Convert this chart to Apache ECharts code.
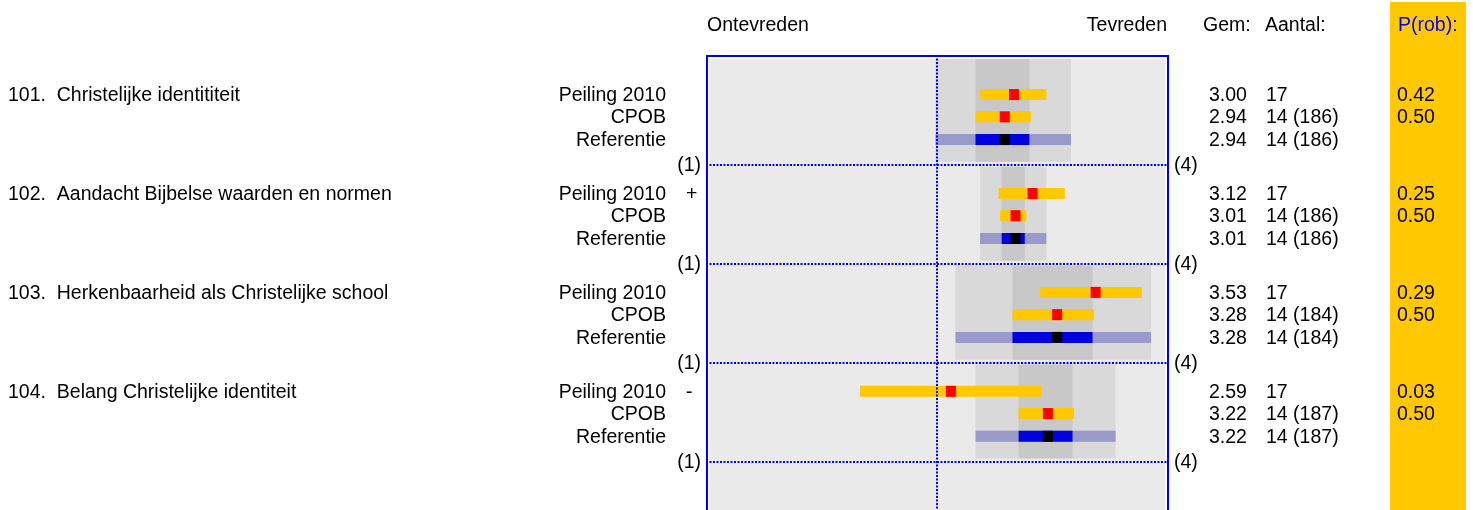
<!DOCTYPE html>
<html>
<head>
<meta charset="utf-8">
<script src="https://cdn.jsdelivr.net/npm/echarts@6/dist/echarts.min.js"></script>
<style>
html, body { margin: 0; padding: 0; background: #fff; }
#chart { width: 1473px; height: 510px; }
</style>
</head>
<body>
<div id="chart"></div>
<script>
// vragen en rijen
var vragen = ['101.  Christelijke identititeit', '102.  Aandacht Bijbelse waarden en normen',
              '103.  Herkenbaarheid als Christelijke school', '104.  Belang Christelijke identiteit'];
var rijen = ['Peiling 2010', 'CPOB', 'Referentie'];
var tekens = ['', '+', '', '-'];

// Peiling 2010
var peilingGem = [3.00, 3.12, 3.53, 2.59];
var peilingLaag = [2.78, 2.90, 3.17, 2.00];
var peilingHoog = [3.21, 3.33, 3.83, 3.18];
var peilingN = [17, 17, 17, 17];
var peilingP = ['0.42', '0.25', '0.29', '0.03'];

// CPOB
var cpobGem = [2.94, 3.01, 3.28, 3.22];
var cpobLaag = [2.75, 2.91, 2.99, 3.03];
var cpobHoog = [3.11, 3.08, 3.52, 3.39];
var cpobN = [14, 14, 14, 14];
var cpobTotaal = [186, 186, 184, 187];
var cpobP = ['0.50', '0.50', '0.50', '0.50'];

// Referentie
var refLaag = [2.49, 2.78, 2.62, 2.75];
var refHoog = [3.37, 3.21, 3.89, 3.66];
var refBinnenLaag = [2.75, 2.92, 2.99, 3.03];
var refBinnenHoog = [3.10, 3.07, 3.51, 3.38];

var FONT = '19.5px "Liberation Sans", Arial, sans-serif';
var rijOff = [0.29, 0.515, 0.745]; // plaats van de rij binnen een vraag

var chart = echarts.init(document.getElementById('chart'));

var data = vragen.map(function (v, i) {
    return [i, peilingLaag[i], peilingHoog[i], peilingGem[i],
            cpobLaag[i], cpobHoog[i], cpobGem[i],
            refLaag[i], refHoog[i], refBinnenLaag[i], refBinnenHoog[i]];
});

function tekst(x, y, t, align, kleur) {
    return {
        type: 'text', x: x, y: y,
        style: { text: t, font: FONT, fill: kleur || '#000',
                 align: align, textAlign: align, verticalAlign: 'middle', textVerticalAlign: 'middle' }
    };
}

// achtergrondvlakken per vraag
function vlakken(params, api) {
    var g = api.value(0);
    var boven = g === 0 ? -0.07 : g + 0.02;
    var onder = g + 0.97;
    function vlak(lo, hi, kleur) {
        var a = api.coord([lo, boven]), b = api.coord([hi, onder]);
        return { type: 'rect', shape: { x: a[0], y: a[1], width: b[0] - a[0], height: b[1] - a[1] }, style: { fill: kleur } };
    }
    return { type: 'group', children: [
        vlak(api.value(7), api.value(8), '#d9d9d9'),
        vlak(api.value(9), api.value(10), '#c8c8c8')
    ] };
}

// balken
function balken(params, api) {
    var g = api.value(0);
    var kids = [];
    function balk(lo, hi, r, kleur) {
        var y = g + rijOff[r];
        var a = api.coord([lo, y]), b = api.coord([hi, y]);
        kids.push({ type: 'rect', shape: { x: a[0], y: a[1] - 5.5, width: b[0] - a[0], height: 11 }, style: { fill: kleur } });
    }
    function stip(m, r, kleur) {
        var p = api.coord([m, g + rijOff[r]]);
        kids.push({ type: 'rect', shape: { x: p[0] - 5, y: p[1] - 5.5, width: 10, height: 11 }, style: { fill: kleur } });
    }
    balk(api.value(1), api.value(2), 0, '#ffc800');
    stip(api.value(3), 0, '#ff0000');
    balk(api.value(4), api.value(5), 1, '#ffc800');
    stip(api.value(6), 1, '#ff0000');
    balk(api.value(7), api.value(8), 2, '#9999cc');
    balk(api.value(9), api.value(10), 2, '#0000e0');
    stip(api.value(6), 2, '#000000');
    return { type: 'group', children: kids };
}

// teksten naast de grafiek
function teksten(params, api) {
    var g = api.value(0);
    var y = rijOff.map(function (o) { return api.coord([1, g + o])[1] + 1; });
    var lijn = api.coord([1, g + 1])[1] + 1;
    var kids = [
        tekst(8, y[0], vragen[g], 'left'),
        tekst(666, y[0], rijen[0], 'right'),
        tekst(666, y[1], rijen[1], 'right'),
        tekst(666, y[2], rijen[2], 'right'),
        tekst(686, y[0], tekens[g], 'left'),
        tekst(701, lijn, '(1)', 'right'),
        tekst(1174, lijn, '(4)', 'left'),
        tekst(1209, y[0], peilingGem[g].toFixed(2), 'left'),
        tekst(1209, y[1], cpobGem[g].toFixed(2), 'left'),
        tekst(1209, y[2], cpobGem[g].toFixed(2), 'left'),
        tekst(1266, y[0], String(peilingN[g]), 'left'),
        tekst(1266, y[1], cpobN[g] + ' (' + cpobTotaal[g] + ')', 'left'),
        tekst(1266, y[2], cpobN[g] + ' (' + cpobTotaal[g] + ')', 'left'),
        tekst(1397, y[0], peilingP[g], 'left'),
        tekst(1397, y[1], cpobP[g], 'left')
    ];
    return { type: 'group', children: kids };
}

var option = {
    animation: false,
    grid: { left: 706, right: 305, top: 55, bottom: -5, show: false },
    xAxis: { type: 'value', min: 1, max: 4, show: false },
    yAxis: { type: 'value', min: -0.11, max: 4.49, inverse: true, show: false },
    graphic: [
        { type: 'rect', z: -10, shape: { x: 1390, y: 2, width: 76, height: 510 }, style: { fill: '#ffc800' } },
        { type: 'rect', z: -10, shape: { x: 707, y: 56, width: 461, height: 470 }, style: { fill: '#fff', stroke: '#0000ff', lineWidth: 2 } },
        { type: 'rect', z: -10, shape: { x: 709, y: 59, width: 456, height: 455 }, style: { fill: '#eaeaea' } },
        tekst(707, 26, 'Ontevreden', 'left'),
        tekst(1167, 26, 'Tevreden', 'right'),
        tekst(1203, 26, 'Gem:', 'left'),
        tekst(1265, 26, 'Aantal:', 'left'),
        tekst(1398, 26, 'P(rob):', 'left', '#0000ff')
    ],
    series: [
        {
            type: 'custom', z: 1, silent: true, clip: false,
            renderItem: vlakken, data: data,
            markLine: {
                silent: true, symbol: ['none', 'none'], label: { show: false },
                lineStyle: { color: '#0000ff', type: [2, 1.5], width: 2 },
                data: [{ xAxis: 2.5 }, { yAxis: 1 }, { yAxis: 2 }, { yAxis: 3 }, { yAxis: 4 }]
            }
        },
        { type: 'custom', z: 3, silent: true, renderItem: balken, data: data },
        { type: 'custom', z: 4, silent: true, clip: false, renderItem: teksten, data: data }
    ]
};
chart.setOption(option);
</script>
</body>
</html>
